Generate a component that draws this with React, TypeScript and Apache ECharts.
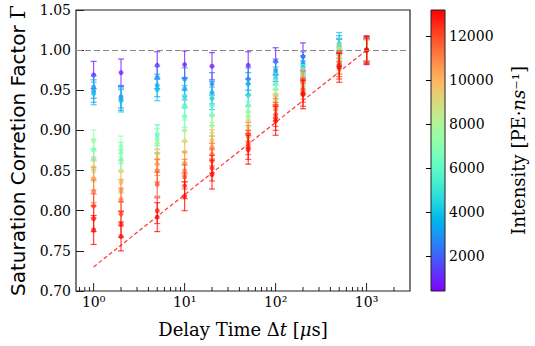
import React, { useEffect, useRef } from 'react';
import * as echarts from 'echarts';

// ---- data ----
const delayTimes = [1, 2, 5, 10, 20, 50, 100, 200, 500, 1000];
const intensities = [800, 2600, 3200, 3900, 5600, 6400, 7400, 8600, 9800, 10600, 11300, 12000, 12600, 13100];
// correction factor per intensity (same order as intensities), one array per delay time
const factorsAt1 = [0.969, 0.954, 0.949, 0.946, 0.864, 0.876, 0.8875, 0.849, 0.854, 0.840, 0.824, 0.806, 0.790, 0.776];
const factorsAt2 = [0.972, 0.942, 0.939, 0.937, 0.863, 0.872, 0.880, 0.850, 0.835, 0.825, 0.814, 0.796, 0.783, 0.768];
const factorsAt5 = [0.981, 0.966, 0.956, 0.951, 0.894, 0.889, 0.884, 0.871, 0.864, 0.858, 0.850, 0.833, 0.800, 0.792];
const factorsAt10 = [0.982, 0.964, 0.952, 0.942, 0.931, 0.917, 0.900, 0.887, 0.873, 0.859, 0.850, 0.842, 0.831, 0.818];
const factorsAt20 = [0.980, 0.958, 0.947, 0.940, 0.931, 0.919, 0.906, 0.897, 0.888, 0.879, 0.870, 0.862, 0.853, 0.845];
const factorsAt50 = [0.981, 0.964, 0.958, 0.944, 0.931, 0.923, 0.917, 0.910, 0.900, 0.896, 0.892, 0.885, 0.880, 0.876];
const factorsAt100 = [0.986, 0.975, 0.971, 0.965, 0.958, 0.951, 0.944, 0.938, 0.933, 0.929, 0.926, 0.920, 0.916, 0.912];
const factorsAt200 = [0.992, 0.984, 0.979, 0.973, 0.969, 0.965, 0.958, 0.956, 0.962, 0.953, 0.960, 0.950, 0.946, 0.945];
const factorsAt500 = [0.997, 1.000, 1.004, 1.008, 1.002, 0.995, 0.990, 0.988, 0.992, 0.985, 0.984, 0.982, 0.980, 0.978];
const factorsAt1000 = [1.0, 1.0, 1.0, 1.0, 1.0, 1.0, 1.0, 1.0, 1.0, 1.0, 1.0, 1.0, 1.0, 1.0];
const factorsByDelay = [factorsAt1, factorsAt2, factorsAt5, factorsAt10, factorsAt20, factorsAt50, factorsAt100, factorsAt200, factorsAt500, factorsAt1000];
const errors = [0.017, 0.014, 0.014, 0.014, 0.013, 0.013, 0.013, 0.013, 0.013, 0.014, 0.014, 0.015, 0.016, 0.018];

const fitX = [1, 1000];
const fitY = [0.73, 1.0];

const xMajorTicks = [1, 10, 100, 1000];
const xMajorLabels = ['10\u2070', '10\u00b9', '10\u00b2', '10\u00b3'];
const xMinorTicks = [0.7, 0.8, 0.9, 2, 3, 4, 5, 6, 7, 8, 9, 20, 30, 40, 50, 60, 70, 80, 90, 200, 300, 400, 500, 600, 700, 800, 900, 2000];
const colorbarTicks = [2000, 4000, 6000, 8000, 10000, 12000];
const colorMin = 400;
const colorMax = 13200;

function rainbow(t: number): string {
  const tt = Math.max(0, Math.min(1, t));
  const r = Math.min(1, Math.abs(2 * tt - 0.5));
  const g = Math.max(0, Math.sin(tt * Math.PI));
  const b = Math.max(0, Math.cos((tt * Math.PI) / 2));
  return `rgb(${Math.round(r * 255)},${Math.round(g * 255)},${Math.round(b * 255)})`;
}

const SERIF = 'DejaVu Serif';
const SANS = 'DejaVu Sans';

export default function App() {
  const ref = useRef<HTMLDivElement>(null);
  useEffect(() => {
    if (!ref.current) return;
    const chart = echarts.init(ref.current, null, { renderer: 'svg' });

    const pointData: number[][] = [];
    intensities.forEach((inten, k) => {
      delayTimes.forEach((dt, d) => {
        pointData.push([dt, factorsByDelay[d][k], errors[k], inten]);
      });
    });

    const tickData: number[][] = [
      ...xMajorTicks.map((v, i) => [v, 0.7, 1, i]),
      ...xMinorTicks.map((v) => [v, 0.7, 0, -1]),
    ];

    const stops = [];
    for (let i = 0; i <= 20; i++) {
      stops.push({ offset: i / 20, color: rainbow(i / 20) });
    }

    const option: any = {
      animation: false,
      grid: [
        { left: 72, top: 10, width: 338, height: 281, show: true, borderColor: '#222', borderWidth: 1.2, backgroundColor: 'transparent' },
        { left: 431, top: 10, width: 14, height: 281, show: false },
      ],
      xAxis: [
        {
          type: 'log', gridIndex: 0, logBase: 10, min: 0.64, max: 3000,
          axisLine: { show: false }, axisTick: { show: false }, axisLabel: { show: false }, splitLine: { show: false },
          name: 'Delay Time \u0394{i|t} [{i|\u03bc}s]', nameLocation: 'middle', nameGap: 29,
          nameTextStyle: {
            fontFamily: SERIF, fontSize: 18, color: '#000',
            rich: { i: { fontFamily: SERIF, fontSize: 18, fontStyle: 'italic', color: '#000' } },
          },
        },
        { type: 'value', gridIndex: 1, show: false, min: 0, max: 1 },
      ],
      yAxis: [
        {
          type: 'value', gridIndex: 0, min: 0.7, max: 1.05, interval: 0.05,
          axisLine: { show: false },
          axisTick: { show: true, inside: true, length: 8, lineStyle: { color: '#222', width: 1 } },
          axisLabel: { formatter: (v: number) => v.toFixed(2), fontFamily: SERIF, fontSize: 14, color: '#000', margin: 5 },
          splitLine: { show: false },
          name: 'Saturation Corretion Factor {g|\u0393}', nameLocation: 'middle', nameGap: 48,
          nameTextStyle: {
            fontFamily: SANS, fontSize: 20, color: '#000',
            rich: { g: { fontFamily: SERIF, fontSize: 20, color: '#000' } },
          },
        },
        {
          type: 'value', gridIndex: 1, position: 'right', min: colorMin, max: colorMax,
          axisLine: { show: false },
          axisTick: { show: true, inside: true, length: 5, customValues: colorbarTicks, lineStyle: { color: '#000', width: 1 } },
          axisLabel: { customValues: colorbarTicks, fontFamily: SERIF, fontSize: 14, color: '#000', margin: 4, formatter: (v: number) => String(v) },
          splitLine: { show: false },
          name: 'Intensity [PE\u00b7{i|ns}\u207b\u00b9]', nameLocation: 'middle', nameGap: 64,
          nameTextStyle: {
            fontFamily: SERIF, fontSize: 18, color: '#000',
            rich: { i: { fontFamily: SERIF, fontSize: 18, fontStyle: 'italic', color: '#000' } },
          },
        },
      ],
      graphic: [
        {
          type: 'rect', x: 431, y: 10, z: -1,
          shape: { x: 0, y: 0, width: 14, height: 281 },
          style: { fill: new echarts.graphic.LinearGradient(0, 1, 0, 0, stops), stroke: '#222', lineWidth: 1 },
        },
      ],
      series: [
        {
          type: 'line', xAxisIndex: 0, yAxisIndex: 0,
          data: fitX.map((x, i) => [x, fitY[i]]),
          symbol: 'none', silent: true, z: 3,
          lineStyle: { color: 'rgba(255,0,0,0.8)', width: 1.2, type: [4, 2.5] },
          markLine: {
            silent: true, symbol: 'none', label: { show: false },
            lineStyle: { color: '#8a8a8a', width: 1.2, type: [6, 3] },
            data: [{ yAxis: 1.0 }],
          },
        },
        {
          type: 'custom', xAxisIndex: 0, yAxisIndex: 0, z: 4,
          data: pointData,
          encode: { x: 0, y: 1 },
          renderItem: (params: any, api: any) => {
            const x = api.value(0);
            const y = api.value(1);
            const e = api.value(2);
            const inten = api.value(3);
            const c = rainbow((inten - colorMin) / (colorMax - colorMin));
            const p = api.coord([x, y]);
            const pt = api.coord([x, y + e]);
            const pb = api.coord([x, y - e]);
            const st = { stroke: c, lineWidth: 1.2, opacity: 0.75 };
            return {
              type: 'group',
              children: [
                { type: 'line', shape: { x1: p[0], y1: pt[1], x2: p[0], y2: pb[1] }, style: st },
                { type: 'line', shape: { x1: p[0] - 3, y1: pt[1], x2: p[0] + 3, y2: pt[1] }, style: st },
                { type: 'line', shape: { x1: p[0] - 3, y1: pb[1], x2: p[0] + 3, y2: pb[1] }, style: st },
                { type: 'circle', shape: { cx: p[0], cy: p[1], r: 2.5 }, style: { fill: c, opacity: 0.75 } },
              ],
            };
          },
        },
        {
          type: 'custom', xAxisIndex: 0, yAxisIndex: 0, z: 5, silent: true, clip: false,
          data: tickData,
          encode: { x: 0, y: 1 },
          renderItem: (params: any, api: any) => {
            const v = api.value(0);
            const major = api.value(2) === 1;
            const idx = api.value(3);
            const p = api.coord([v, 0.7]);
            const len = major ? 8 : 4;
            const children: any[] = [
              { type: 'line', shape: { x1: p[0], y1: p[1], x2: p[0], y2: p[1] - len }, style: { stroke: '#222', lineWidth: 1 } },
            ];
            if (major) {
              children.push({
                type: 'text', x: p[0], y: p[1] + 4,
                style: {
                  text: xMajorLabels[idx], fontFamily: SERIF, fontSize: 14, fill: '#000',
                  align: 'center', verticalAlign: 'top', textAlign: 'center', textVerticalAlign: 'top',
                },
              });
            }
            return { type: 'group', children };
          },
        },
      ],
    };
    chart.setOption(option);
    return () => chart.dispose();
  }, []);
  return <div ref={ref} style={{ position: 'fixed', left: 0, top: 0, width: 535, height: 346, background: '#fff' }} />;
}
